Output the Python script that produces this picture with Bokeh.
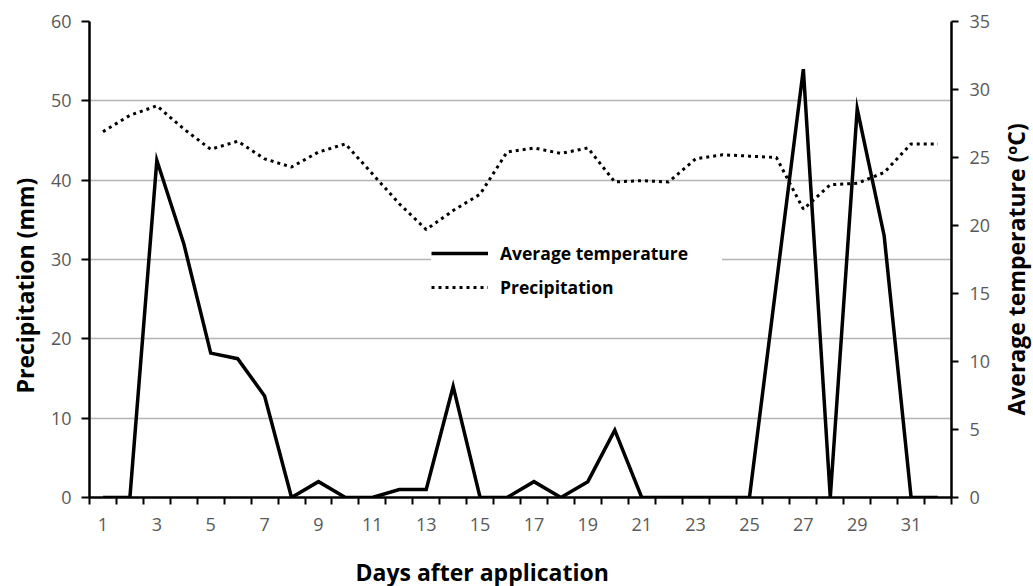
import math
from bokeh.plotting import figure
from bokeh.models import (LinearAxis, Range1d, FixedTicker, Legend, LegendItem, Title)
from bokeh.layouts import row, column
from bokeh.core.properties import value
from bokeh.embed import file_html
from bokeh.resources import INLINE

days = list(range(1, 33))
# solid line (left axis, 0-60)
solid_vals = [0, 0, 42.5, 32, 18.2, 17.5, 12.8, 0, 2, 0, 0, 1, 1, 14, 0, 0,
              2, 0, 2, 8.5, 0, 0, 0, 0, 0, 27, 54, 0, 49, 33, 0, 0]
# dotted line (right axis, 0-35)
dotted_vals = [26.9, 28.1, 28.8, 27.1, 25.6, 26.2, 24.9, 24.3, 25.4, 26.0, 23.8, 21.6,
               19.7, 21.1, 22.3, 25.4, 25.7, 25.3, 25.7, 23.2, 23.3, 23.2, 24.9, 25.2,
               25.1, 25.0, 21.2, 23.0, 23.1, 23.9, 26.0, 26.0]
x_tick_labels = [d for d in days if d % 2 == 1]
left_ticks = [0, 10, 20, 30, 40, 50, 60]
right_ticks = [0, 5, 10, 15, 20, 25, 30, 35]
legend_labels = ["Average temperature", "Precipitation"]
x_title = "Days after application"
left_title = "Precipitation (mm)"
right_title = "Average temperature  (ºC)"

FONT = "Open Sans"
GRAY = "#595959"

MAIN_W, MAIN_H = 993, 548

p = figure(width=MAIN_W, height=MAIN_H, output_backend="svg", toolbar_location=None,
           x_range=Range1d(0.5, 32.5), y_range=Range1d(0, 60),
           min_border_left=89, min_border_right=42, min_border_top=21, min_border_bottom=51)
p.outline_line_color = None
p.background_fill_color = "white"
p.border_fill_color = "white"
p.xgrid.visible = False
p.ygrid.grid_line_color = "#b4b4b4"
p.ygrid.grid_line_width = 1.5
p.ygrid.ticker = FixedTicker(ticks=left_ticks)

p.extra_y_ranges = {"temp": Range1d(0, 35)}

# x axis
xa = p.xaxis[0]
xa.ticker = FixedTicker(ticks=x_tick_labels,
                        minor_ticks=[d - 0.5 for d in days] + [days[-1] + 0.5])
xa.major_tick_out = 0
xa.major_tick_in = 0
xa.minor_tick_out = 7
xa.minor_tick_in = 0
xa.minor_tick_line_color = "black"
xa.minor_tick_line_width = 2
xa.axis_line_color = "black"
xa.axis_line_width = 2.5
xa.major_label_text_font = FONT
xa.major_label_text_font_size = "18px"
xa.major_label_text_color = GRAY
xa.major_label_standoff = 13

# left axis
ya = p.yaxis[0]
ya.ticker = FixedTicker(ticks=left_ticks)
ya.minor_tick_out = 0
ya.minor_tick_in = 0
ya.major_tick_out = 8
ya.major_tick_in = 0
ya.major_tick_line_width = 2
ya.axis_line_width = 2.5
ya.major_label_text_font = FONT
ya.major_label_text_font_size = "18px"
ya.major_label_text_color = GRAY
ya.major_label_standoff = 10

# right axis
ra = LinearAxis(y_range_name="temp", ticker=FixedTicker(ticks=right_ticks))
ra.minor_tick_out = 0
ra.minor_tick_in = 0
ra.major_tick_out = 7
ra.major_tick_in = 0
ra.major_tick_line_width = 2
ra.axis_line_width = 2.5
ra.major_label_text_font = FONT
ra.major_label_text_font_size = "18px"
ra.major_label_text_color = GRAY
ra.major_label_standoff = 11
p.add_layout(ra, "right")

has_standoff = "standoff" in Title.properties()
lt = Title(text=left_title, align="left", offset=104,
           text_font=FONT, text_font_style="bold", text_font_size="23px", text_color="black")
if has_standoff:
    lt.standoff = 13
p.add_layout(lt, "left")

r1 = p.line(days, solid_vals, line_color="black", line_width=3.5, line_join="miter")
r2 = p.line(days, dotted_vals, y_range_name="temp", line_color="black", line_width=3,
            line_dash="3 4", line_cap="butt")

legend = Legend(items=[LegendItem(label=legend_labels[0], renderers=[r1]),
                       LegendItem(label=legend_labels[1], renderers=[r2])],
                location=(342, 198), glyph_width=57, glyph_height=20, spacing=10,
                label_standoff=12, label_height=20, label_width=222, padding=2,
                margin=0, border_line_color=None,
                background_fill_color="white", background_fill_alpha=1.0,
                label_text_font=FONT, label_text_font_style="bold",
                label_text_font_size="17.5px", label_text_color="black",
                label_text_baseline="middle")
p.add_layout(legend, "center")


def text_panel(w, h):
    f = figure(width=w, height=h, output_backend="svg", toolbar_location=None,
               x_range=Range1d(0, w), y_range=Range1d(0, h),
               x_axis_type=None, y_axis_type=None,
               min_border=0, min_border_left=0, min_border_right=0,
               min_border_top=0, min_border_bottom=0)
    if f.title is not None:
        f.title.visible = False
        f.title.text = ""
        if has_standoff:
            f.title.standoff = 0
    f.outline_line_color = None
    f.background_fill_color = "white"
    f.border_fill_color = "white"
    f.grid.visible = False
    return f


# right-hand title panel (text reads bottom to top)
RW = 1033 - MAIN_W
pr = text_panel(RW, MAIN_H)
pr.text(x=[22], y=[MAIN_H - 282], text=[right_title], angle=math.pi / 2,
        text_font=value(FONT), text_font_style="bold", text_font_size="23px",
        text_color="black", text_align="center", text_baseline="middle")

# bottom title panel
BH = 586 - MAIN_H
pb = text_panel(1033, BH)
pb.text(x=[355], y=[BH - 23], text=[x_title],
        text_font=value(FONT), text_font_style="bold", text_font_size="23px",
        text_color="black", text_align="left", text_baseline="middle")

layout = column(row(p, pr, spacing=0), pb, spacing=0)
open("out.html", "w").write(file_html(layout, INLINE))
